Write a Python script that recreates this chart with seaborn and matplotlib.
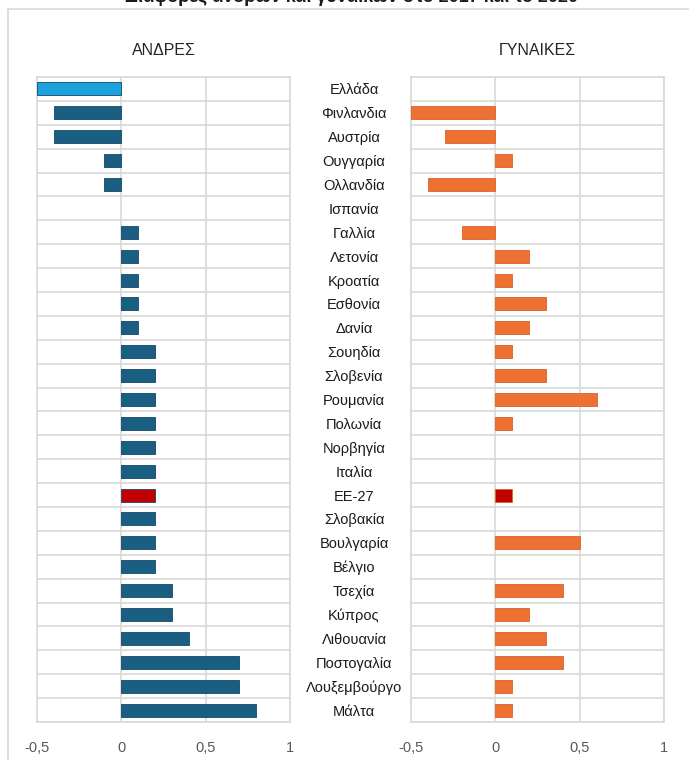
#!/usr/bin/env python3
# coding: utf-8

import numpy as np
import pandas as pd
import matplotlib
matplotlib.use("Agg")
import matplotlib.pyplot as plt
from matplotlib.patches import Rectangle
from matplotlib.ticker import FuncFormatter
import seaborn as sns

# data (difference in points)
countries = ["Ελλάδα", "Φινλανδια", "Αυστρία", "Ουγγαρία", "Ολλανδία", "Ισπανία",
             "Γαλλία", "Λετονία", "Κροατία", "Εσθονία", "Δανία", "Σουηδία",
             "Σλοβενία", "Ρουμανία", "Πολωνία", "Νορβηγία", "Ιταλία", "ΕΕ-27",
             "Σλοβακία", "Βουλγαρία", "Βέλγιο", "Τσεχία", "Κύπρος", "Λιθουανία",
             "Ποστογαλία", "Λουξεμβούργο", "Μάλτα"]
men = [-0.5, -0.4, -0.4, -0.1, -0.1, 0.0,
       0.1, 0.1, 0.1, 0.1, 0.1, 0.2,
       0.2, 0.2, 0.2, 0.2, 0.2, 0.2,
       0.2, 0.2, 0.2, 0.3, 0.3, 0.4,
       0.7, 0.7, 0.8]
women = [0.0, -0.5, -0.3, 0.1, -0.4, 0.0,
         -0.2, 0.2, 0.1, 0.3, 0.2, 0.1,
         0.3, 0.6, 0.1, 0.0, 0.0, 0.1,
         0.0, 0.5, 0.0, 0.4, 0.2, 0.3,
         0.4, 0.1, 0.1]
panel_titles = ["ΑΝΔΡΕΣ", "ΓΥΝΑΙΚΕΣ"]
x_ticks = [-0.5, 0, 0.5, 1]

BLUE = "#1a5e82"
LIGHT_BLUE = "#1ba1db"
ORANGE = "#ed7133"
RED = "#c00000"
GRID = "#d9d9d9"

sns.set_theme(style="white")
plt.rcParams["font.family"] = ["Liberation Sans", "DejaVu Sans"]

men_colors = [LIGHT_BLUE if c == "Ελλάδα" else RED if c == "ΕΕ-27" else BLUE for c in countries]
women_colors = [RED if c == "ΕΕ-27" else ORANGE for c in countries]

df = pd.DataFrame({"country": countries, "men": men, "women": women})

W, H = 689, 760
fig = plt.figure(figsize=(W / 100, H / 100), dpi=100)

# light outer frame like the source document
fig.patches.append(Rectangle((8 / W, -0.1), 1.2, 1 - 9 / H + 0.1, transform=fig.transFigure,
                             fill=False, edgecolor="#d9d9d9", linewidth=1.2))

ax_l = fig.add_axes([37 / W, 1 - 722 / H, 253 / W, 645 / H])
ax_r = fig.add_axes([411 / W, 1 - 722 / H, 253 / W, 645 / H])

panels = [(ax_l, "men", men_colors, "#124a68"), (ax_r, "women", women_colors, "#d8622a")]
for i, (ax, col, cols, edge) in enumerate(panels):
    sns.barplot(data=df, x=col, y="country", hue="country", palette=cols, legend=False,
                orient="h", width=0.54, saturation=1, ax=ax, edgecolor=edge,
                linewidth=0.6, zorder=3)
    # no outline for the empty (zero) bars
    for p in ax.patches:
        if abs(p.get_width()) < 1e-9:
            p.set_linewidth(0)
    ax.set_xlim(-0.5, 1)
    ax.set_ylim(len(countries) - 0.5, -0.5)
    ax.set_xticks(x_ticks)
    ax.xaxis.set_major_formatter(FuncFormatter(lambda v, p: f"{v:g}".replace(".", ",")))
    ax.set_yticks(np.arange(-0.5, len(countries), 1), minor=True)
    ax.grid(True, axis="x", which="major", color=GRID, linewidth=1.2, zorder=0)
    ax.grid(True, axis="y", which="minor", color=GRID, linewidth=1.2, zorder=0)
    ax.tick_params(axis="x", length=0, pad=14, labelsize=10.5, labelcolor="#595959")
    ax.tick_params(axis="y", which="both", length=0)
    for s in ax.spines.values():
        s.set_color(GRID)
        s.set_linewidth(1.2)
    ax.set_xlabel("")
    ax.set_ylabel("")
    ax.set_title(panel_titles[i], fontsize=11.5, color="#262626", pad=16)
    ax.set_axisbelow(True)

ax_l.set_yticklabels([])
# country names sit centered in the gap between the two panels
ax_r.set_yticks(range(len(countries)))
ax_r.set_yticklabels(countries, fontsize=10.5, color="#1a1a1a", ha="center")
ax_r.tick_params(axis="y", which="major", pad=41)

# title line of the source, mostly cut off by the crop
fig.text(0.51, 1 + 3 / H, "Διαφορές ανδρών και γυναικών στο 2017 και το 2020",
         ha="center", va="center", fontsize=13, fontweight="bold", color="#1a1a1a")

fig.savefig("out.png", dpi=100)
